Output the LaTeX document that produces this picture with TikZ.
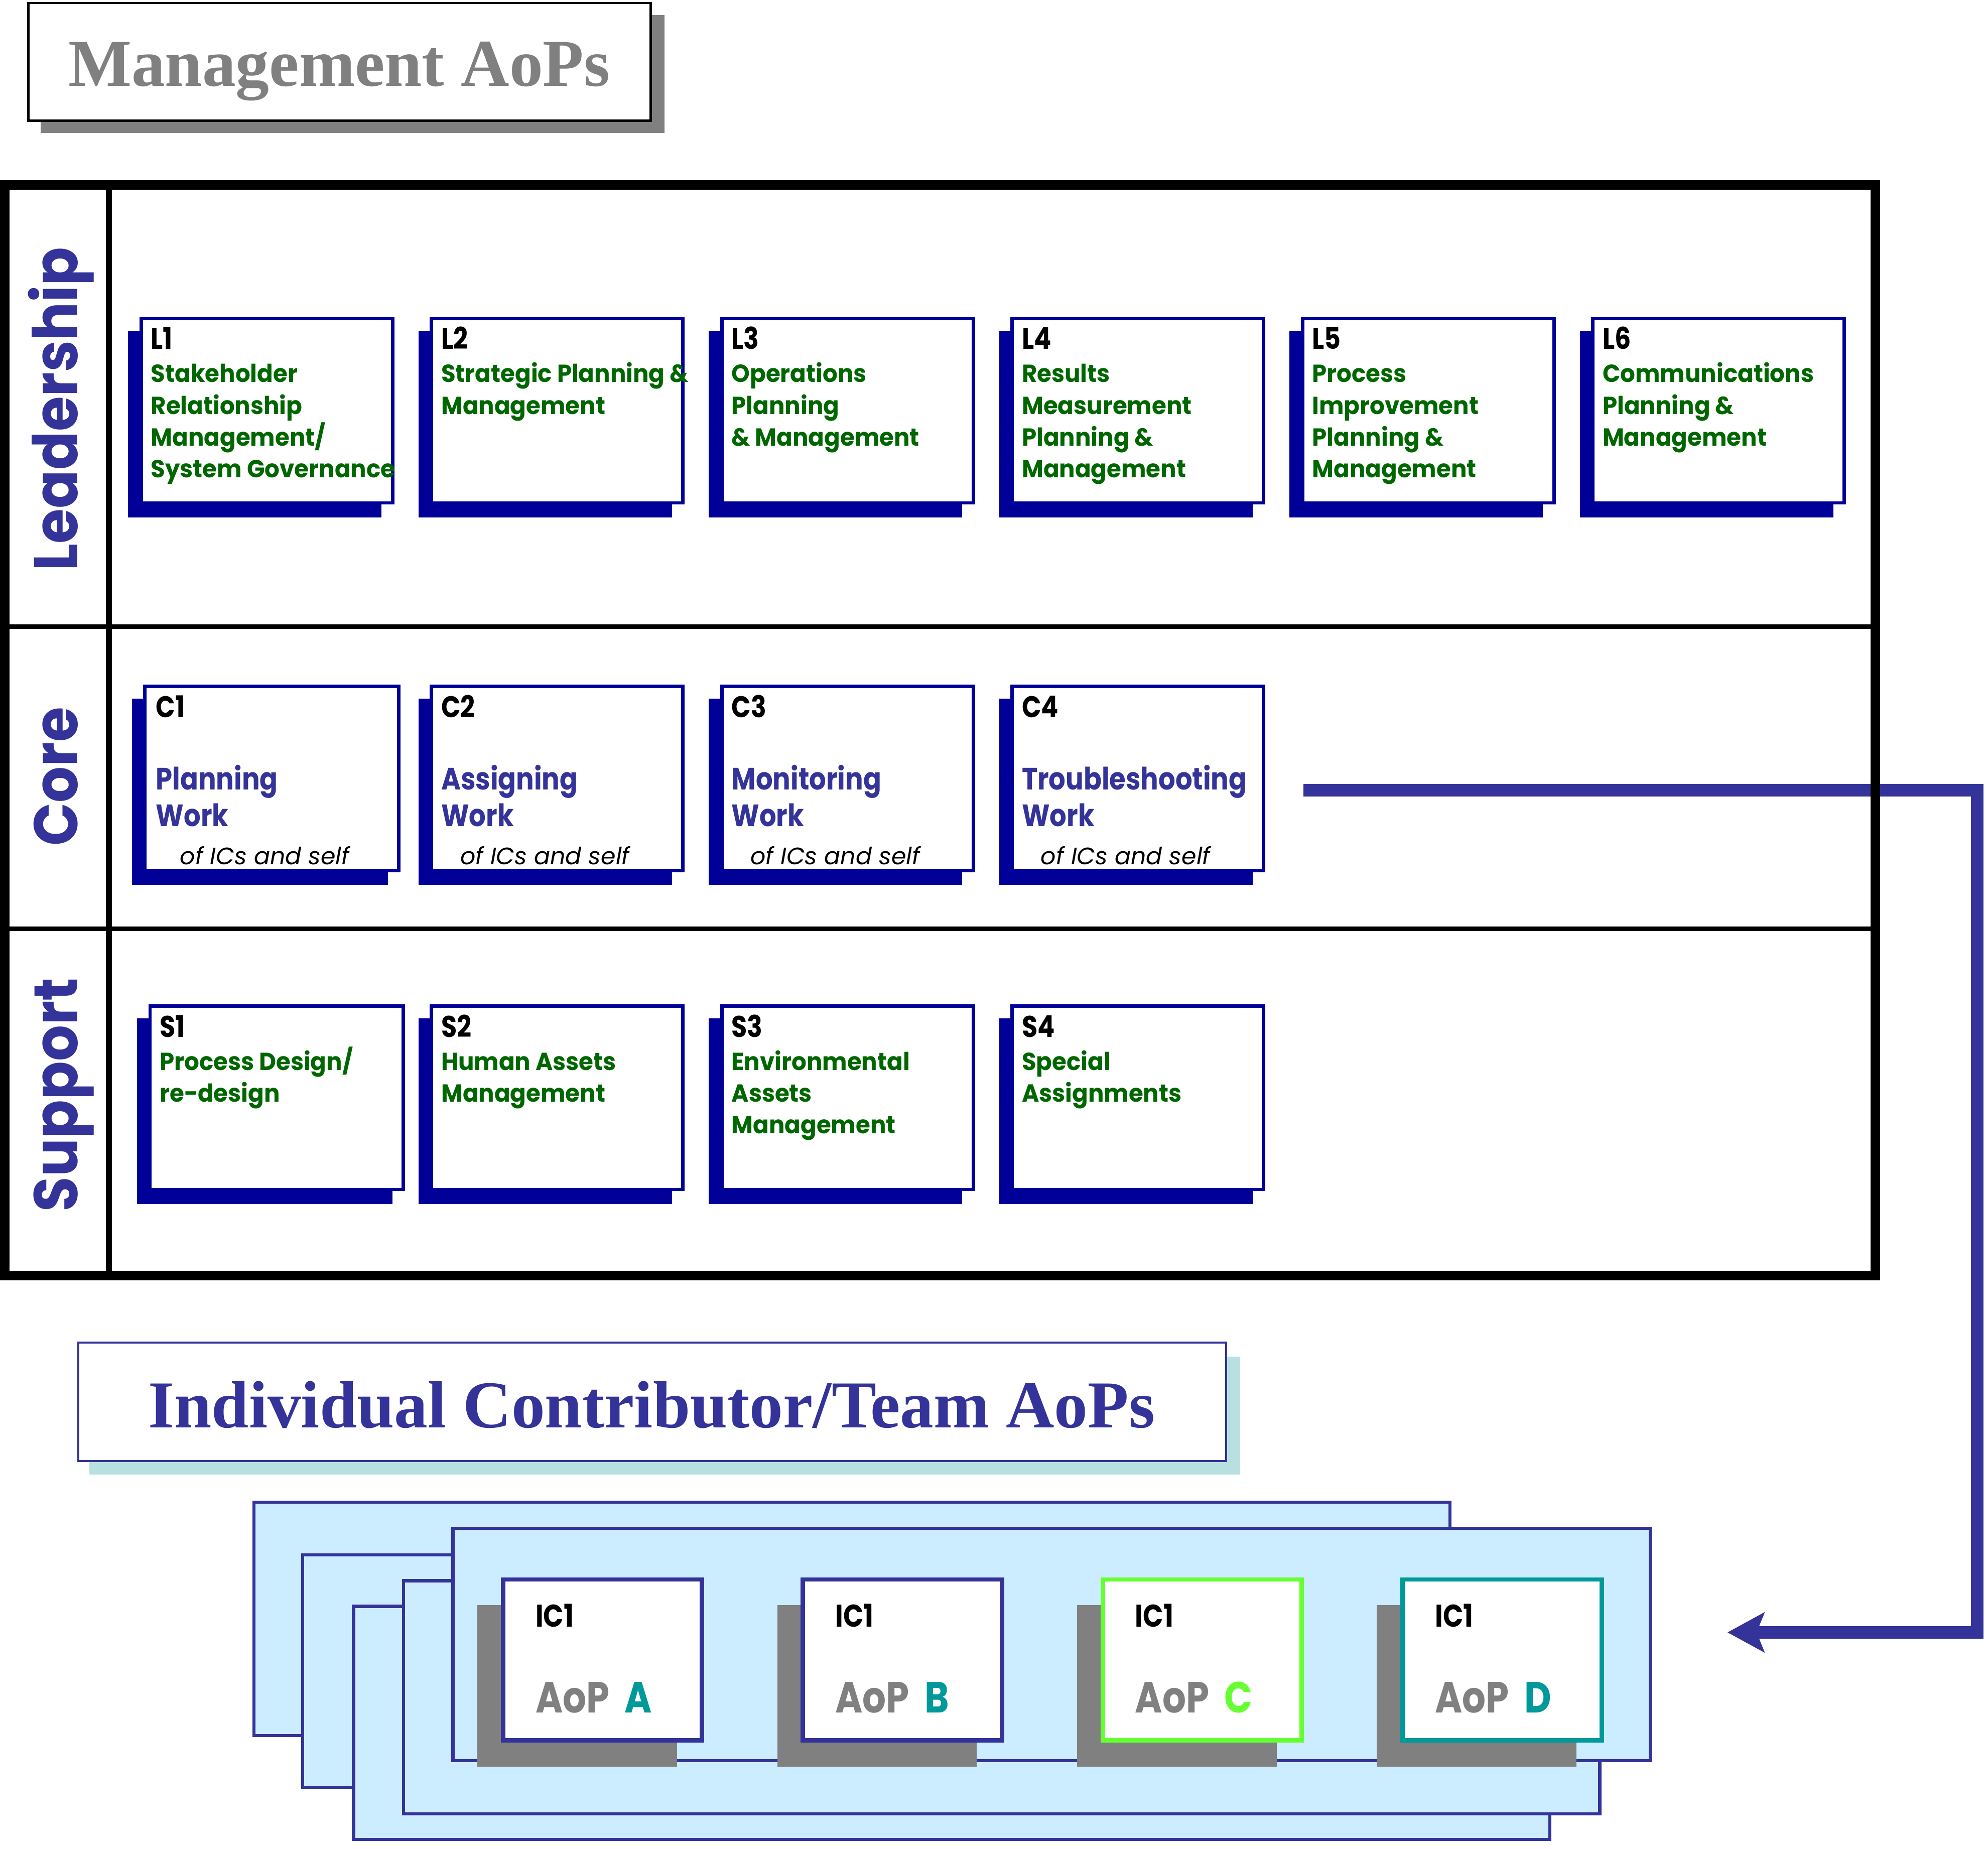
\documentclass[tikz,border=0pt]{standalone}
\usepackage{fontspec}
\usetikzlibrary{arrows.meta}
\setmainfont{Liberation Serif}
\newfontfamily\gothic{Poppins}
\newfontfamily\gothicG[FakeStretch=0.95]{Poppins}
\newfontfamily\gothicL[FakeStretch=0.92]{Poppins}
\newfontfamily\gothicN[FakeStretch=0.85]{Poppins}
\newfontfamily\gothicM[FakeStretch=0.86]{Poppins}
\definecolor{navy}{HTML}{000099}
\definecolor{iris}{HTML}{333399}
\definecolor{dgreen}{HTML}{006600}
\definecolor{mgray}{HTML}{808080}
\definecolor{pale}{HTML}{CCECFF}
\definecolor{tealc}{HTML}{009999}
\definecolor{limec}{HTML}{66FF33}
\definecolor{shteal}{HTML}{B8E0E0}
\newcommand\upx{0.025262cm}
\newcommand\mystack[2]{\vtop{\baselineskip=#1\relax\lineskiplimit=-100pt\lineskip=0pt\halign{##\hfil\cr#2\crcr}}}
\tikzset{
  every node/.style={inner sep=0pt, outer sep=0pt},
  bbox/.style={draw=navy, line width=1.95pt, fill=white},
  panel/.style={draw=iris, line width=1.8pt, fill=pale},
  card/.style={line width=2.5pt, fill=white},
  idtxt/.style={anchor=base west, font=\gothicN\bfseries\fontsize{17pt}{17pt}\selectfont, text=black},
  gtxt/.style={anchor=base west, font=\gothicG\bfseries\fontsize{14pt}{18pt}\selectfont, text=dgreen},
  ctxt/.style={anchor=base west, font=\gothicM\bfseries\fontsize{17.5pt}{20.8pt}\selectfont, text=iris},
  itxt/.style={anchor=base west, font=\gothic\itshape\fontsize{13.5pt}{13.5pt}\selectfont, text=black},
  rowlbl/.style={rotate=90, anchor=base, font=\gothicL\bfseries\fontsize{35pt}{35pt}\selectfont, text=iris},
  bigtitle/.style={anchor=base, font=\bfseries\fontsize{38pt}{38pt}\selectfont},
  ictxt/.style={anchor=base west, font=\gothicN\bfseries\fontsize{17.8pt}{17.8pt}\selectfont, text=black},
  aoptxt/.style={anchor=base west, font=\gothicN\bfseries\fontsize{24.7pt}{24.7pt}\selectfont, text=mgray},
  arrowline/.style={draw=iris, line width=7.2pt, -{Stealth[length=20.8pt, width=22.3pt, inset=4.3pt]}}
}
% name, outer x0, outer y0, outer width, outer height
\newcommand\aopbox[5]{%
  \fill[navy] ({#2-9},{#3+11}) rectangle ({#2+#4-10},{#3+#5+10});
  \node[bbox, minimum width={(#4-2.7)*\upx}, minimum height={(#5-2.7)*\upx}] (#1) at ({#2+#4/2},{#3+#5/2}) {};
}
% name, outer x0, border color, letter, letter color
\newcommand\iccard[5]{%
  \fill[mgray] ({#2-18.5},1266) rectangle ({#2+139},1393.6);
  \node[card, draw=#3, minimum width={(160.5-3.5)*\upx}, minimum height={(130.5-3.5)*\upx}] (#1) at ({#2+80.25},1309.25) {};
  \node[ictxt] (#1id) at ({#2+27.4},1283) {IC1};
  \node[aoptxt] (#1aop) at ({#2+27.4},1351) {AoP\hspace{0.35em}\textcolor{#5}{#4}};
}
\begin{document}
\begin{tikzpicture}[x=0.025262cm, y=-0.025262cm]
\useasboundingbox (0,0) rectangle (1568,1458);

% ---- Management title
\fill[mgray] (32,12) rectangle (524,105);
\node[draw=black, line width=1.2pt, fill=white, minimum width={(513.2-22.4)*\upx}, minimum height={(95.2-2.4)*\upx}] (mbox) at (267.8,48.8) {};
\node[bigtitle, text=mgray] (mtitle) at (267.5,68) {Management AoPs};

% ---- connector arrow (under the frame)
\coordinate (arrS) at (1028,623.4);
\coordinate (arrT) at (1559.6,950);
\coordinate (arrE) at (1362.5,1287.5);
\draw[arrowline] (arrS) -| (arrT) |- (arrE);

% ---- main frame
\node[draw=black, line width=5.4pt, minimum width={(1479.3-3.6)*\upx}, minimum height={(1006-146)*\upx}] (frame) at ({(1479.3+3.6)/2},{(1006+146)/2}) {};
\draw[line width=3.4pt] (86,146) -- (86,1006);
\draw[line width=2.5pt] (3.6,494.3) -- (1479.3,494.3);
\draw[line width=2.5pt] (3.6,732.5) -- (1479.3,732.5);

\node[rowlbl] (lead) at (61,322.5) {Leadership};
\node[rowlbl] (core) at (61,612.5) {Core};
\node[rowlbl] (supp) at (61,863.5) {Support};

% ---- Leadership boxes
\aopbox{L1}{110}{250}{201}{148}
\aopbox{L2}{339}{250}{201}{148}
\aopbox{L3}{568}{250}{201}{148}
\aopbox{L4}{797}{250}{201}{148}
\aopbox{L5}{1026}{250}{201}{148}
\aopbox{L6}{1255}{250}{201}{148}
\node[idtxt] (L1id) at (119,275.5) {L1};
\node[idtxt] (L2id) at (348,275.5) {L2};
\node[idtxt] (L3id) at (577,275.5) {L3};
\node[idtxt] (L4id) at (806,275.5) {L4};
\node[idtxt] (L5id) at (1035,275.5) {L5};
\node[idtxt] (L6id) at (1264,275.5) {L6};
\node[gtxt] (L1t) at (119,301.6) {\mystack{18pt}{Stakeholder\cr Relationship\cr Management/\cr System Governance}};
\node[gtxt] (L2t) at (348,301.6) {\mystack{18pt}{Strategic Planning \&\cr Management}};
\node[gtxt] (L3t) at (577,301.6) {\mystack{18pt}{Operations\cr Planning\cr \& Management}};
\node[gtxt] (L4t) at (806,301.6) {\mystack{18pt}{Results\cr Measurement\cr Planning \&\cr Management}};
\node[gtxt] (L5t) at (1035,301.6) {\mystack{18pt}{Process\cr Improvement\cr Planning \&\cr Management}};
\node[gtxt] (L6t) at (1264,301.6) {\mystack{18pt}{Communications\cr Planning \&\cr Management}};

% ---- Core boxes
\aopbox{C1}{113}{540}{203}{148}
\aopbox{C2}{339}{540}{201}{148}
\aopbox{C3}{568}{540}{201}{148}
\aopbox{C4}{797}{540}{201}{148}
\node[idtxt] (C1id) at (123,566) {C1};
\node[idtxt] (C2id) at (348,566) {C2};
\node[idtxt] (C3id) at (577,566) {C3};
\node[idtxt] (C4id) at (806,566) {C4};
\node[ctxt] (C1t) at (123,623) {\mystack{20.8pt}{Planning\cr Work}};
\node[ctxt] (C2t) at (348,623) {\mystack{20.8pt}{Assigning\cr Work}};
\node[ctxt] (C3t) at (577,623) {\mystack{20.8pt}{Monitoring\cr Work}};
\node[ctxt] (C4t) at (806,623) {\mystack{20.8pt}{Troubleshooting\cr Work}};
\node[itxt] (C1i) at (142,682) {of ICs and self};
\node[itxt] (C2i) at (363,682) {of ICs and self};
\node[itxt] (C3i) at (592,682) {of ICs and self};
\node[itxt] (C4i) at (821,682) {of ICs and self};

% ---- Support boxes
\aopbox{S1}{117}{792}{202.5}{147.5}
\aopbox{S2}{339}{792}{201}{147.5}
\aopbox{S3}{568}{792}{201}{147.5}
\aopbox{S4}{797}{792}{201}{147.5}
\node[idtxt] (S1id) at (126,818) {S1};
\node[idtxt] (S2id) at (348,818) {S2};
\node[idtxt] (S3id) at (577,818) {S3};
\node[idtxt] (S4id) at (806,818) {S4};
\node[gtxt] (S1t) at (126,844) {\mystack{18pt}{Process Design/\cr re-design}};
\node[gtxt] (S2t) at (348,844) {\mystack{18pt}{Human Assets\cr Management}};
\node[gtxt] (S3t) at (577,844) {\mystack{18pt}{Environmental\cr Assets\cr Management}};
\node[gtxt] (S4t) at (806,844) {\mystack{18pt}{Special\cr Assignments}};

% ---- Individual contributor title
\fill[shteal] (70.5,1070) rectangle (978,1163);
\node[draw=iris, line width=1.2pt, fill=white, minimum width={(967.2-61.8)*\upx}, minimum height={(1152.2-1058.8)*\upx}] (icbox) at (514.5,1105.5) {};
\node[bigtitle, text=iris] (ictitle) at (514,1126) {Individual Contributor/Team AoPs};

% ---- stacked panels
\node[panel, minimum width={(1145-199-2.5)*\upx}, minimum height={(1370-1183.6-2.5)*\upx}] (P1) at ({(1145+199)/2},{(1370+1183.6)/2}) {};
\node[panel, minimum width={(946-2.5)*\upx}, minimum height={(1411-1225-2.5)*\upx}] (P2) at ({237.5+473},{(1411+1225)/2}) {};
\node[panel, minimum width={(946-2.5)*\upx}, minimum height={(1452-1265.7-2.5)*\upx}] (P3) at ({277.6+473},{(1452+1265.7)/2}) {};
\node[panel, minimum width={(946-2.5)*\upx}, minimum height={(1432-1245.5-2.5)*\upx}] (P4) at ({317+473},{(1432+1245.5)/2}) {};
\node[panel, minimum width={(947-2.5)*\upx}, minimum height={(1390-1204-2.5)*\upx}] (P5) at ({356+473.5},{(1390+1204)/2}) {};

% ---- IC cards
\iccard{ICA}{395}{iris}{A}{tealc}
\iccard{ICB}{631.5}{iris}{B}{tealc}
\iccard{ICC}{868}{limec}{C}{limec}
\iccard{ICD}{1104.5}{tealc}{D}{tealc}
\end{tikzpicture}
\end{document}
